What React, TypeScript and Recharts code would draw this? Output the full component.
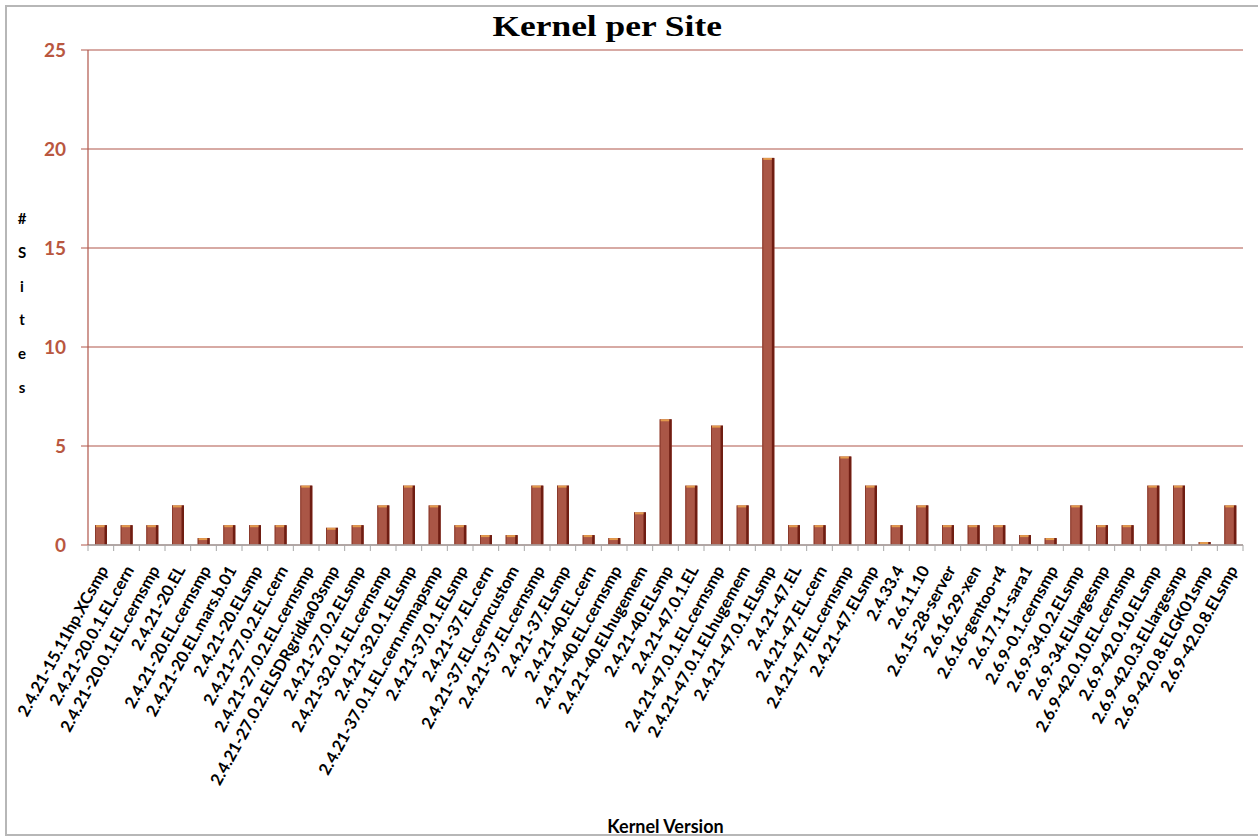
import React from 'react';
import { BarChart, Bar, XAxis, YAxis, CartesianGrid } from 'recharts';

const kernels = [
  '2.4.21-15.11hp.XCsmp', '2.4.21-20.0.1.EL.cern', '2.4.21-20.0.1.EL.cernsmp', '2.4.21-20.EL',
  '2.4.21-20.EL.cernsmp', '2.4.21-20.EL.mars.b.01', '2.4.21-20.ELsmp', '2.4.21-27.0.2.EL.cern',
  '2.4.21-27.0.2.EL.cernsmp', '2.4.21-27.0.2.ELSDRgridka03smp', '2.4.21-27.0.2.ELsmp',
  '2.4.21-32.0.1.EL.cernsmp', '2.4.21-32.0.1.ELsmp', '2.4.21-37.0.1.EL.cern.mmapsmp',
  '2.4.21-37.0.1.ELsmp', '2.4.21-37.EL.cern', '2.4.21-37.EL.cerncustom', '2.4.21-37.EL.cernsmp',
  '2.4.21-37.ELsmp', '2.4.21-40.EL.cern', '2.4.21-40.EL.cernsmp', '2.4.21-40.ELhugemem',
  '2.4.21-40.ELsmp', '2.4.21-47.0.1.EL', '2.4.21-47.0.1.EL.cernsmp', '2.4.21-47.0.1.ELhugemem',
  '2.4.21-47.0.1.ELsmp', '2.4.21-47.EL', '2.4.21-47.EL.cern', '2.4.21-47.EL.cernsmp',
  '2.4.21-47.ELsmp', '2.4.33.4', '2.6.11.10', '2.6.15-28-server', '2.6.16.29-xen',
  '2.6.16-gentoo-r4', '2.6.17.11-sara1', '2.6.9-0.1.cernsmp', '2.6.9-34.0.2.ELsmp',
  '2.6.9-34.ELlargesmp', '2.6.9-42.0.10.EL.cernsmp', '2.6.9-42.0.10.ELsmp',
  '2.6.9-42.0.3.ELlargesmp', '2.6.9-42.0.8.ELGK01smp', '2.6.9-42.0.8.ELsmp',
];

const sites = [
  1, 1, 1, 2, 0.35, 1, 1, 1, 3, 0.87, 1, 2, 3, 2, 1, 0.5, 0.5, 3, 3, 0.5, 0.35, 1.65,
  6.35, 3, 6.03, 2, 19.55, 1, 1, 4.47, 3, 1, 2, 1, 1, 1, 0.5, 0.35, 2, 1, 1, 3, 3, 0.15, 2,
];

const yTicks = [0, 5, 10, 15, 20, 25];

const data = kernels.map((name, i) => ({ name, sites: sites[i] }));

const W = 1258;
const H = 837;
const BAND = 1155 / kernels.length;

// excel-ish column: flat fill, dark right edge, orange cap
const Column = ({ x, y, width, height }: any) => {
  if (!height || height <= 0) return null;
  return (
    <g>
      <rect x={x} y={y} width={width} height={height} fill="#aa5646" />
      <rect x={x + width - 2.5} y={y} width={2.5} height={height} fill="#6f1d12" />
      <rect x={x} y={y} width={1} height={height} fill="#8a3a2c" />
      <rect x={x + 1} y={y} width={width - 3.5} height={Math.min(2, height)} fill="#e39a4c" />
    </g>
  );
};

const KernelTick = ({ x, y, payload, index }: any) => (
  <g>
    <line x1={x - BAND / 2} x2={x - BAND / 2} y1={y} y2={y + 6} stroke="#a6a6a6" />
    {index === kernels.length - 1 && (
      <line x1={x + BAND / 2} x2={x + BAND / 2} y1={y} y2={y + 6} stroke="#a6a6a6" />
    )}
    <text
      transform={`translate(${x + 3},${y + 22}) rotate(-61)`}
      textAnchor="end"
      dy="0.35em"
      fontFamily="Lato"
      fontWeight="bold"
      fontSize={16.5}
      fill="#000"
    >
      {payload.value}
    </text>
  </g>
);

const SitesLabel = () => {
  const letters = ['#', 'S', 'i', 't', 'e', 's'];
  return (
    <text x={22} fontFamily="Lato" fontWeight="bold" fontSize={15} fill="#000" textAnchor="middle">
      {letters.map((c, i) => (
        <tspan key={i} x={22} y={224 + i * 33.8}>{c}</tspan>
      ))}
    </text>
  );
};

export default function App() {
  return (
    <div style={{ position: 'fixed', left: 0, top: 0, width: W, height: H, overflow: 'hidden', background: '#fff' }}>
      <div
        style={{
          position: 'absolute', left: 5, top: 5, width: W + 20, height: H - 6,
          border: '2px solid #b7b7b7', boxSizing: 'border-box',
        }}
      />
      <div
        style={{
          position: 'absolute', left: 0, top: 11, width: 1214, textAlign: 'center',
          fontFamily: '"Liberation Serif"', fontWeight: 'bold', fontSize: 30, lineHeight: '30px',
        }}
      >
        <span style={{ display: 'inline-block', transform: 'scaleX(1.18)' }}>Kernel per Site</span>
      </div>
      <BarChart
        width={W}
        height={H}
        data={data}
        margin={{ top: 50, right: 15, bottom: 0, left: 0 }}
        barSize={12}
        style={{ position: 'absolute', left: 0, top: 0 }}
      >
        <CartesianGrid vertical={false} stroke="#b0564a" strokeWidth={1.2} />
        <XAxis
          dataKey="name"
          interval={0}
          height={292}
          tickLine={false}
          tickSize={0}
          tickMargin={0}
          axisLine={{ stroke: '#a6a6a6', strokeWidth: 1.5 }}
          tick={<KernelTick />}
          label={{
            value: 'Kernel Version', position: 'insideBottom', offset: 4,
            style: { fontFamily: 'Lato', fontWeight: 'bold', fontSize: 18, fill: '#000' },
          }}
        />
        <YAxis
          width={88}
          domain={[0, 25]}
          ticks={yTicks}
          interval={0}
          tickSize={7}
          tickMargin={15}
          axisLine={{ stroke: '#b0564a', strokeWidth: 1.2 }}
          tickLine={{ stroke: '#b0564a' }}
          tick={{ fill: '#b9573f', fontFamily: 'Lato', fontWeight: 'bold', fontSize: 19 }}
          label={{ content: <SitesLabel /> }}
        />
        <Bar dataKey="sites" fill="#aa5646" shape={<Column />} isAnimationActive={false} />
      </BarChart>
    </div>
  );
}
